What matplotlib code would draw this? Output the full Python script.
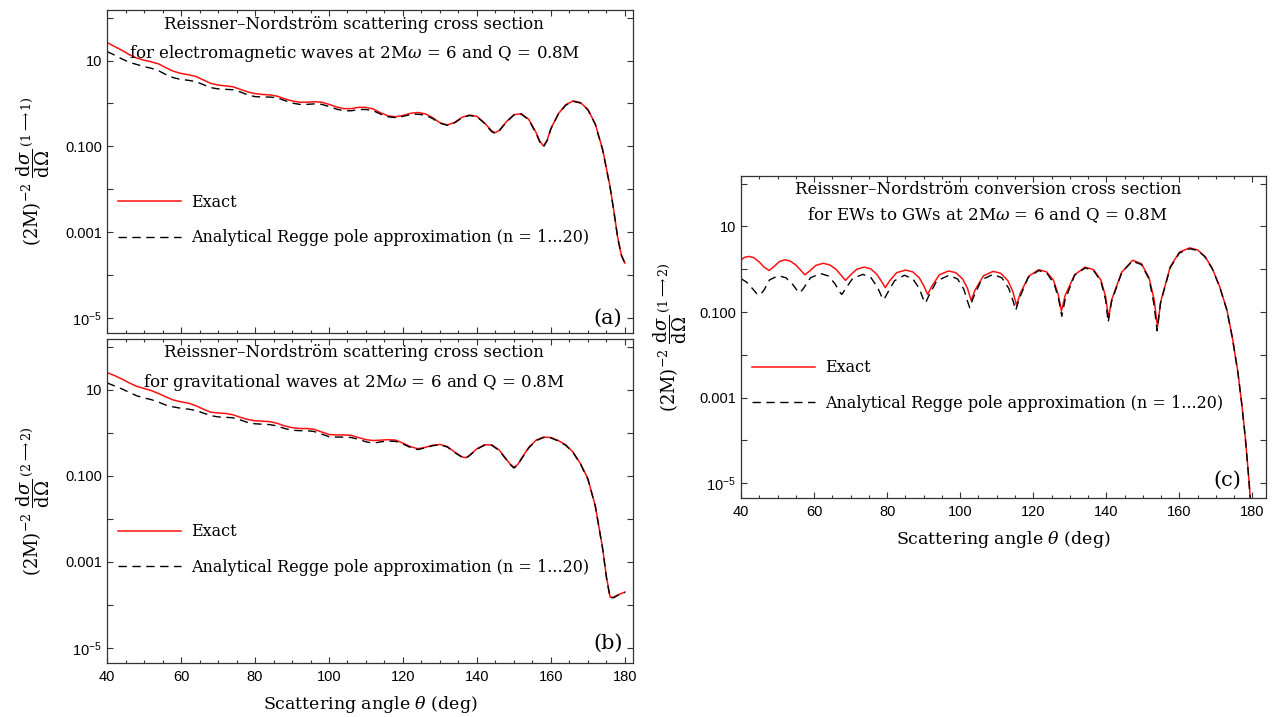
import numpy as np
import matplotlib
matplotlib.use('Agg')
import matplotlib.pyplot as plt
from matplotlib.ticker import MultipleLocator, NullLocator

plt.rcParams['font.family'] = ['Liberation Sans', 'DejaVu Sans']
plt.rcParams['mathtext.fontset'] = 'dejavuserif'

# ---- data (log10 of the cross sections) ----
theta_a = [40, 42, 44, 46, 48, 50, 52, 54, 56, 58, 60, 62, 64, 66, 68, 70, 72, 74, 76, 78,
           80, 82, 84, 86, 88, 90, 92, 94, 96, 98, 100, 102, 104, 106, 108, 110, 112, 114, 116, 118,
           120, 122, 124, 126, 128, 130, 132, 134, 136, 138, 140, 142, 144, 145, 146, 148, 150, 152,
           154, 156, 157, 158, 159, 160, 162, 164, 166, 168, 170, 172, 174, 176, 177, 178, 179, 180]
exact_a = [1.42, 1.33, 1.24, 1.14, 1.06, 1.01, 0.97, 0.92, 0.83, 0.75, 0.70, 0.67, 0.63, 0.55, 0.47,
           0.43, 0.41, 0.39, 0.33, 0.27, 0.23, 0.21, 0.20, 0.17, 0.11, 0.06, 0.03, 0.03, 0.04, 0.03,
           -0.02, -0.08, -0.12, -0.12, -0.09, -0.09, -0.13, -0.22, -0.29, -0.31, -0.28, -0.23, -0.21,
           -0.24, -0.33, -0.45, -0.50, -0.44, -0.32, -0.27, -0.30, -0.45, -0.64, -0.68, -0.63, -0.42,
           -0.26, -0.24, -0.37, -0.68, -0.88, -0.99, -0.85, -0.58, -0.24, -0.03, 0.06, 0.02, -0.14,
           -0.48, -1.08, -1.95, -2.50, -3.10, -3.52, -3.72]
regge_a = [1.21, 1.13, 1.04, 0.96, 0.91, 0.86, 0.82, 0.76, 0.67, 0.60, 0.56, 0.54, 0.51, 0.44, 0.37,
           0.34, 0.33, 0.32, 0.27, 0.20, 0.16, 0.15, 0.15, 0.13, 0.07, 0.01, -0.02, -0.02, -0.01, -0.02,
           -0.07, -0.13, -0.17, -0.17, -0.14, -0.14, -0.17, -0.25, -0.31, -0.33, -0.30, -0.26, -0.25,
           -0.27, -0.35, -0.46, -0.51, -0.45, -0.33, -0.28, -0.31, -0.46, -0.66, -0.70, -0.64, -0.43,
           -0.27, -0.25, -0.38, -0.70, -0.90, -1.01, -0.86, -0.59, -0.25, -0.04, 0.05, 0.01, -0.15,
           -0.49, -1.09, -1.96, -2.51, -3.11, -3.53, -3.73]

theta_b = [40, 42, 44, 46, 48, 50, 52, 54, 56, 58, 60, 62, 64, 66, 68, 70, 72, 74, 76, 78,
           80, 82, 84, 86, 88, 90, 92, 94, 96, 98, 100, 102, 104, 106, 108, 110, 112, 114, 116, 118,
           120, 122, 124, 126, 128, 130, 132, 134, 136, 137, 138, 140, 142, 144, 146, 148, 149, 150,
           151, 152, 154, 156, 158, 160, 162, 164, 166, 168, 170, 172, 174, 175, 176, 177, 178, 180]
exact_b = [1.40, 1.33, 1.25, 1.16, 1.08, 1.03, 0.98, 0.91, 0.83, 0.76, 0.72, 0.69, 0.63, 0.55, 0.48,
           0.46, 0.45, 0.42, 0.36, 0.31, 0.28, 0.27, 0.26, 0.22, 0.16, 0.12, 0.10, 0.10, 0.08, 0.02,
           -0.04, -0.05, -0.05, -0.06, -0.11, -0.16, -0.18, -0.17, -0.16, -0.17, -0.24, -0.32, -0.37,
           -0.34, -0.29, -0.27, -0.32, -0.45, -0.56, -0.58, -0.52, -0.37, -0.28, -0.28, -0.40, -0.62,
           -0.73, -0.80, -0.74, -0.60, -0.34, -0.17, -0.10, -0.11, -0.18, -0.28, -0.45, -0.72, -1.07,
           -1.70, -2.70, -3.35, -3.82, -3.82, -3.77, -3.70]
regge_b = [1.16, 1.09, 1.02, 0.94, 0.86, 0.81, 0.77, 0.71, 0.64, 0.60, 0.57, 0.55, 0.52, 0.46, 0.40,
           0.37, 0.36, 0.35, 0.30, 0.24, 0.21, 0.20, 0.19, 0.16, 0.10, 0.06, 0.05, 0.05, 0.03, -0.03,
           -0.09, -0.10, -0.10, -0.11, -0.15, -0.21, -0.24, -0.21, -0.19, -0.20, -0.26, -0.34, -0.39,
           -0.35, -0.30, -0.28, -0.33, -0.46, -0.57, -0.59, -0.53, -0.38, -0.29, -0.29, -0.41, -0.63,
           -0.74, -0.82, -0.75, -0.61, -0.35, -0.18, -0.11, -0.12, -0.19, -0.29, -0.46, -0.73, -1.08,
           -1.71, -2.71, -3.36, -3.84, -3.83, -3.78, -3.71]

theta_c_exact = [40.0, 41.0, 42.2, 43.5, 45.0, 46.3, 47.7, 49.0, 50.5, 52.0, 53.5, 55.0, 56.3, 57.5,
                 58.8, 60.5, 62.5, 64.3, 66.0, 67.4, 68.6, 69.9, 71.7, 73.7, 75.5, 77.2, 78.5, 79.5,
                 80.6, 82.6, 85.0, 87.0, 88.8, 90.1, 91.1, 92.2, 94.3, 96.8, 98.8, 100.7, 102.0, 103.0,
                 104.1, 106.4, 109.0, 111.0, 113.0, 114.4, 115.4, 116.5, 118.8, 121.5, 123.6, 125.5,
                 126.8, 127.7, 128.7, 131.3, 134.2, 136.5, 138.5, 139.8, 140.6, 141.5, 144.2, 147.2,
                 149.6, 151.7, 153.1, 154.0, 154.9, 157.5, 160.0, 162.8, 165.0, 167.0, 169.0, 171.0,
                 173.0, 174.5, 176.0, 177.0, 178.0, 179.0, 179.6]
exact_c = [0.22, 0.28, 0.30, 0.27, 0.17, 0.05, -0.03, 0.06, 0.18, 0.22, 0.19, 0.10, -0.02, -0.13,
           -0.04, 0.09, 0.14, 0.10, 0.00, -0.14, -0.26, -0.14, 0.00, 0.05, 0.01, -0.12, -0.29, -0.43,
           -0.28, -0.08, -0.02, -0.06, -0.20, -0.40, -0.59, -0.40, -0.13, -0.04, -0.08, -0.23, -0.45,
           -0.73, -0.48, -0.15, -0.05, -0.09, -0.26, -0.52, -0.84, -0.55, -0.16, -0.01, -0.06, -0.25,
           -0.58, -0.98, -0.62, -0.13, 0.05, -0.01, -0.25, -0.64, -1.13, -0.70, -0.07, 0.21, 0.13,
           -0.20, -0.72, -1.35, -0.75, 0.06, 0.40, 0.50, 0.45, 0.30, 0.02, -0.40, -0.95, -1.60, -2.40,
           -3.10, -3.90, -4.90, -5.60]

theta_c_regge = [40.0, 41.5, 43.0, 44.3, 45.2, 46.2, 47.8, 50.2, 52.3, 54.2, 55.4, 56.1, 57.0, 59.0,
                 61.8, 64.0, 65.8, 67.0, 67.6, 68.5, 70.6, 73.4, 75.6, 77.4, 78.5, 79.1, 80.0, 82.0,
                 84.7, 87.0, 88.8, 89.9, 90.5, 91.4, 93.6, 97.0, 99.3, 101.0, 102.0, 102.6, 103.5, 105.8,
                 109.0, 111.4, 113.3, 114.5, 115.2, 116.2, 118.6, 121.5, 123.8, 125.8, 127.0, 127.8,
                 128.7, 131.3, 134.2, 136.5, 138.5, 139.8, 140.5, 141.4, 144.2, 147.1, 149.6, 151.7,
                 153.0, 153.9, 154.8, 157.5, 160.0, 162.8, 165.0, 167.0, 169.0, 171.0, 173.0, 174.5,
                 176.0, 177.0, 178.0, 179.0, 179.6]
regge_c = [-0.22, -0.30, -0.44, -0.57, -0.60, -0.50, -0.25, -0.15, -0.20, -0.36, -0.50, -0.55, -0.46,
           -0.20, -0.10, -0.16, -0.35, -0.53, -0.59, -0.47, -0.21, -0.12, -0.20, -0.43, -0.64, -0.71,
           -0.57, -0.27, -0.14, -0.22, -0.45, -0.70, -0.79, -0.62, -0.27, -0.14, -0.23, -0.47, -0.75,
           -0.90, -0.68, -0.25, -0.12, -0.20, -0.45, -0.75, -0.96, -0.68, -0.19, -0.03, -0.10, -0.36,
           -0.72, -1.10, -0.72, -0.14, 0.03, -0.03, -0.28, -0.72, -1.24, -0.76, -0.08, 0.19, 0.11,
           -0.23, -0.80, -1.44, -0.80, 0.04, 0.38, 0.48, 0.44, 0.29, 0.01, -0.41, -0.96, -1.61, -2.41,
           -3.11, -3.91, -4.91, -5.61]

ytick_pos = [1e-5, 1e-4, 1e-3, 1e-2, 1e-1, 1, 10, 100]
ytick_labels = [r'$\mathregular{10^{-5}}$', '', '0.001', '', '0.100', '', '10', '']

SERIF = 'DejaVu Serif'
RED = '#ff1010'
FS = 11.5

fig = plt.figure(figsize=(12.73, 7.17), dpi=100)
ax_a = fig.add_axes([0.0841, 0.5356, 0.4132, 0.4505])
ax_b = fig.add_axes([0.0841, 0.0753, 0.4132, 0.4519])
ax_c = fig.add_axes([0.5821, 0.3054, 0.4124, 0.4491])


def style(ax, xmax):
    ax.set_yscale('log')
    ax.set_xlim(40, xmax)
    ax.set_ylim(10 ** -5.35, 10 ** 2.18)
    ax.xaxis.set_major_locator(MultipleLocator(20))
    ax.xaxis.set_minor_locator(MultipleLocator(5))
    ax.set_yticks(ytick_pos, ytick_labels)
    ax.yaxis.set_minor_locator(NullLocator())
    ax.tick_params(which='both', direction='in', top=True, right=True,
                   width=0.8, color='#333333', labelsize=10.5)
    ax.tick_params(which='major', length=4.5)
    ax.tick_params(which='minor', length=2.5)
    ax.tick_params(axis='x', pad=5)
    for s in ax.spines.values():
        s.set_color('#333333')
        s.set_linewidth(0.9)


def draw(ax, th_e, ex, th_r, rg):
    ax.plot(th_e, 10 ** np.array(ex), color=RED, lw=1.1, label='Exact')
    ax.plot(th_r, 10 ** np.array(rg), color='black', lw=1.0, dashes=(6, 4),
            label='Analytical Regge pole approximation (n = 1...20)')
    ax.legend(loc='center left', bbox_to_anchor=(0.02, 0.35), frameon=False,
              prop={'family': SERIF, 'size': FS}, handlelength=4.0,
              handletextpad=0.6, labelspacing=1.15, borderpad=0, borderaxespad=0)


draw(ax_a, theta_a, exact_a, theta_a, regge_a)
draw(ax_b, theta_b, exact_b, theta_b, regge_b)
draw(ax_c, theta_c_exact, exact_c, theta_c_regge, regge_c)

style(ax_a, 182.2)
style(ax_b, 182.2)
style(ax_c, 183.7)
ax_a.tick_params(labelbottom=False)

titles = {
    ax_a: ('Reissner\u2013Nordstr\u00f6m scattering cross section',
           r'for electromagnetic waves at 2M$\omega$ = 6 and Q = 0.8M', 0.954, 0.864),
    ax_b: ('Reissner\u2013Nordstr\u00f6m scattering cross section',
           r'for gravitational waves at 2M$\omega$ = 6 and Q = 0.8M', 0.957, 0.867),
    ax_c: ('Reissner\u2013Nordstr\u00f6m conversion cross section',
           r'for EWs to GWs at 2M$\omega$ = 6 and Q = 0.8M', 0.957, 0.879),
}
for ax, (l1, l2, y1, y2) in titles.items():
    ax.text(0.47, y1, l1, transform=ax.transAxes, ha='center', va='center',
            family=SERIF, fontsize=12)
    ax.text(0.47, y2, l2, transform=ax.transAxes, ha='center', va='center',
            family=SERIF, fontsize=12)

ax_a.text(0.952, 0.045, '(a)', transform=ax_a.transAxes, ha='center', va='center',
          family=SERIF, fontsize=15)
ax_b.text(0.952, 0.06, '(b)', transform=ax_b.transAxes, ha='center', va='center',
          family=SERIF, fontsize=15)
ax_c.text(0.926, 0.056, '(c)', transform=ax_c.transAxes, ha='center', va='center',
          family=SERIF, fontsize=15)

ylabels = {
    ax_a: r'$(2\mathrm{M})^{-2}\ \dfrac{\mathrm{d}\sigma}{\mathrm{d}\Omega}^{\,(1\longrightarrow 1)}$',
    ax_b: r'$(2\mathrm{M})^{-2}\ \dfrac{\mathrm{d}\sigma}{\mathrm{d}\Omega}^{\,(2\longrightarrow 2)}$',
    ax_c: r'$(2\mathrm{M})^{-2}\ \dfrac{\mathrm{d}\sigma}{\mathrm{d}\Omega}^{\,(1\longrightarrow 2)}$',
}
for ax, lab in ylabels.items():
    ax.set_ylabel(lab, fontsize=13)
ax_a.yaxis.set_label_coords(-0.105, 0.5)
ax_b.yaxis.set_label_coords(-0.105, 0.5)
ax_c.yaxis.set_label_coords(-0.1, 0.5)

for ax in (ax_b, ax_c):
    ax.set_xlabel(r'Scattering angle $\theta$ (deg)', family=SERIF, fontsize=12.5, labelpad=7)

fig.savefig('out.png', dpi=100)
